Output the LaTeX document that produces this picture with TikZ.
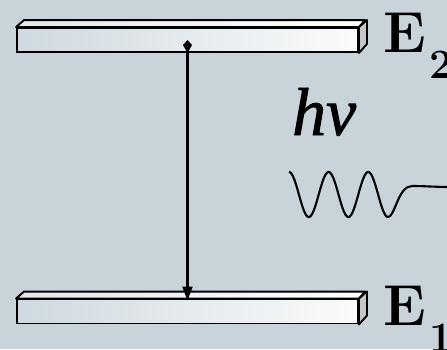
\documentclass[tikz,border=0pt]{standalone}
\usepackage{fontspec}
\newfontfamily\hnufont{Liberation Serif}[ItalicFeatures={FakeBold=1.2}]
\usetikzlibrary{arrows.meta}
\definecolor{bg}{RGB}{200,211,218}
\definecolor{barL}{RGB}{207,217,224}
\definecolor{barR}{RGB}{250,251,251}
\definecolor{topL}{RGB}{226,232,236}
\definecolor{sidec}{RGB}{196,198,199}
\begin{document}
\begin{tikzpicture}[x=1bp,y=-1bp,
  barfront/.style={draw, line width=1.9bp, rectangle, minimum width=341bp,
    minimum height=24bp, inner sep=0pt, left color=barL, right color=barR},
  barface/.style={draw, line width=1.9bp, line join=round},
  level/.style={font=\fontsize{58}{58}\selectfont\bfseries, inner sep=0pt, anchor=base west},
  sublabel/.style={font=\fontsize{42}{42}\selectfont\bfseries, inner sep=0pt, anchor=base west},
  trans/.style={line width=2.1bp,
    {Kite[length=13bp,width=9bp,inset=8bp]}-{Triangle[length=14bp,width=10bp]}},
  wave/.style={line width=2.1bp, line join=round}]
\fill[bg] (0,0) rectangle (447,349);
\useasboundingbox (0,0) rectangle (447,349);
% upper level
\node[barfront] (E2bar) at (187.5,40) {};
\draw[barface, left color=topL, right color=white]
  (E2bar.north west) -- ++(8,-7) -- ++(341,0) -- (E2bar.north east) -- cycle;
\draw[barface, fill=sidec]
  (E2bar.north east) -- ++(8,-7) -- ++(0,24) -- (E2bar.south east) -- cycle;
% lower level
\node[barfront] (E1bar) at (187.5,311.5) {};
\draw[barface, left color=topL, right color=white]
  (E1bar.north west) -- ++(8,-7) -- ++(341,0) -- (E1bar.north east) -- cycle;
\draw[barface, fill=sidec]
  (E1bar.north east) -- ++(8,-7) -- ++(0,24) -- (E1bar.south east) -- cycle;
% transition
\draw[trans] (E2bar.center) -- ([yshift=-2bp]E1bar.north);
% photon
\draw[wave] plot[domain=0:2.5,samples=150] ({289+39.6*\x},{194.5-22.5*cos(360*\x)})
  .. controls (395,217) and (398,186) .. (412,186)
  .. controls (425,186) and (435,187) .. (450,187);
\node[anchor=base west, inner sep=0pt, font=\hnufont\itshape\fontsize{68}{68}\selectfont] (hnu) at (292,135) {hν};
% labels
\node[level] (E2) at (383,52) {E};
\node[sublabel] (s2) at (429,78) {2};
\node[level] (E1) at (383,325) {E};
\node[sublabel] (s1) at (429,351) {1};
\end{tikzpicture}
\end{document}
